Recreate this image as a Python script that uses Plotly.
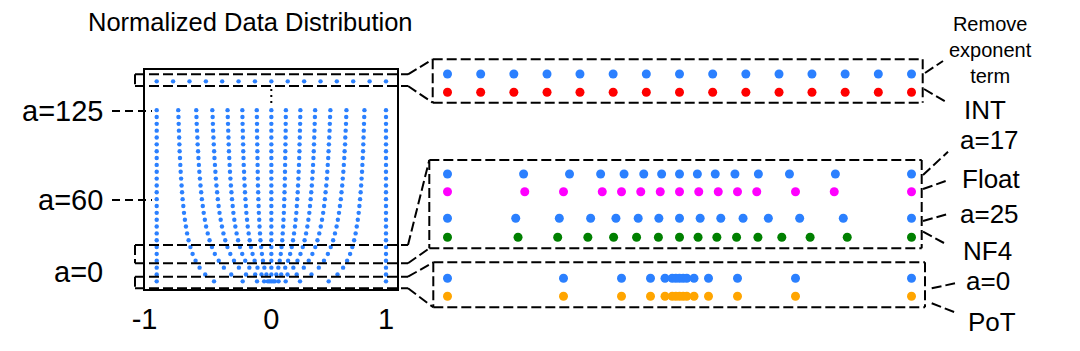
import plotly.graph_objects as go

# ---------------- data ----------------
# rows of the left panel (value of a) and the positive half of the 15 levels in each row
A_LEVELS = [0, 5, 10, 15, 20, 25, 30, 35, 40, 45, 50, 55, 60, 65,
            70, 75, 80, 85, 90, 95, 100, 105, 110, 115, 120, 125]
POS_LEVELS = [
    [0.016, 0.031, 0.063, 0.125, 0.250, 0.500, 1.0],
    [0.043, 0.086, 0.141, 0.221, 0.350, 0.577, 1.0],
    [0.061, 0.121, 0.192, 0.283, 0.414, 0.626, 1.0],
    [0.073, 0.146, 0.228, 0.326, 0.459, 0.661, 1.0],
    [0.082, 0.164, 0.254, 0.358, 0.493, 0.687, 1.0],
    [0.089, 0.178, 0.274, 0.383, 0.518, 0.706, 1.0],
    [0.095, 0.189, 0.290, 0.402, 0.539, 0.722, 1.0],
    [0.099, 0.198, 0.303, 0.418, 0.555, 0.735, 1.0],
    [0.103, 0.206, 0.314, 0.431, 0.569, 0.745, 1.0],
    [0.106, 0.212, 0.323, 0.442, 0.580, 0.754, 1.0],
    [0.109, 0.218, 0.331, 0.452, 0.590, 0.762, 1.0],
    [0.111, 0.222, 0.337, 0.460, 0.598, 0.768, 1.0],
    [0.113, 0.226, 0.343, 0.467, 0.606, 0.774, 1.0],
    [0.115, 0.230, 0.348, 0.473, 0.612, 0.779, 1.0],
    [0.117, 0.233, 0.353, 0.479, 0.618, 0.783, 1.0],
    [0.118, 0.236, 0.357, 0.484, 0.623, 0.787, 1.0],
    [0.119, 0.238, 0.361, 0.488, 0.628, 0.791, 1.0],
    [0.120, 0.241, 0.364, 0.492, 0.632, 0.794, 1.0],
    [0.121, 0.243, 0.367, 0.496, 0.636, 0.797, 1.0],
    [0.122, 0.245, 0.370, 0.499, 0.639, 0.800, 1.0],
    [0.123, 0.246, 0.372, 0.502, 0.643, 0.802, 1.0],
    [0.124, 0.248, 0.374, 0.505, 0.645, 0.804, 1.0],
    [0.125, 0.249, 0.376, 0.508, 0.648, 0.806, 1.0],
    [0.125, 0.251, 0.378, 0.510, 0.651, 0.808, 1.0],
    [0.126, 0.252, 0.380, 0.512, 0.653, 0.810, 1.0],
    [0.127, 0.253, 0.382, 0.515, 0.655, 0.812, 1.0],
]
TOP_ROW_A = 146  # "remove exponent term" row
INT_POS = [0.143, 0.286, 0.429, 0.571, 0.714, 0.857, 1.0]
A17_POS = [0.077, 0.154, 0.239, 0.340, 0.474, 0.672, 1.0]
FLOAT_POS = [0.083, 0.167, 0.250, 0.333, 0.500, 0.667, 1.0]
A25_POS = [0.089, 0.178, 0.274, 0.383, 0.518, 0.706, 1.0]
NF4_VALUES = [-1.0, -0.696, -0.525, -0.395, -0.284, -0.185, -0.091, 0.0,
              0.080, 0.161, 0.246, 0.338, 0.441, 0.563, 0.723, 1.0]
A0_POS = [0.0156, 0.0313, 0.0625, 0.125, 0.25, 0.5, 1.0]
POT_POS = [0.0156, 0.0313, 0.0625, 0.125, 0.25, 0.5, 1.0]
X_TICKS = [-1, 0, 1]
X_TICK_TEXT = ["-1\u00a0\u00a0\u00a0", "0", "1"]

# ---------------- layout helpers ----------------
W, H = 1080, 351
FONT = "Liberation Sans, Arial, Helvetica, sans-serif"
BLUE = "#2b80ff"


def px(x):
    return x / W


def py(y):
    return 1 - y / H


def sym(pos):
    return [-v for v in reversed(pos)] + [0.0] + list(pos)


# ---------------- traces ----------------
fig = go.Figure()

lx, ly = [], []
for a, pos in zip(A_LEVELS, POS_LEVELS):
    row = sym(pos)
    lx += row
    ly += [a] * len(row)
top = sym(INT_POS)
lx += top
ly += [TOP_ROW_A] * len(top)
fig.add_trace(go.Scatter(x=lx, y=ly, mode="markers", xaxis="x", yaxis="y",
                         marker=dict(color=BLUE, size=4.4), cliponaxis=False,
                         showlegend=False, hoverinfo="skip"))

# right panel rows: (values, color, row position in pixels)
RIGHT_ROWS = [
    (sym(INT_POS), BLUE, 74),
    (sym(INT_POS), "#ff0000", 92.3),
    (sym(A17_POS), BLUE, 174),
    (sym(FLOAT_POS), "#ff00ff", 191.7),
    (sym(A25_POS), BLUE, 218.3),
    (NF4_VALUES, "#008000", 237.3),
    (sym(A0_POS), BLUE, 278.3),
    (sym(POT_POS), "#ffa500", 296.3),
]
for vals, col, yy in RIGHT_ROWS:
    fig.add_trace(go.Scatter(x=vals, y=[yy] * len(vals), mode="markers",
                             xaxis="x2", yaxis="y2",
                             marker=dict(color=col, size=9), cliponaxis=False,
                             showlegend=False, hoverinfo="skip"))

# ---------------- shapes ----------------
shapes = []
DASH = "10px,4px"


def dline(x0, y0, x1, y1, dash=DASH, w=2):
    shapes.append(dict(type="line", xref="paper", yref="paper",
                       x0=px(x0), y0=py(y0), x1=px(x1), y1=py(y1),
                       line=dict(color="black", width=w, dash=dash)))


def drect(x0, y0, x1, y1):
    dline(x0, y0, x1, y0)
    dline(x0, y1, x1, y1)
    dline(x0, y0, x0, y1)
    dline(x1, y0, x1, y1)


# left brackets
for (t, b) in [(74.3, 86), (245, 263.3), (276.7, 288.3)]:
    dline(135, t, 408, t)
    dline(135, b, 408, b)
    dline(135, t, 135, b)

# right boxes
drect(432.7, 59.3, 922.7, 102.7)
drect(429.3, 160, 921.7, 248.3)
drect(433.3, 262.3, 925, 307.3)

# connectors left -> right boxes
dline(408, 74.3, 432.7, 59.3)
dline(408, 86, 432.7, 102.7)
dline(408, 245, 429.3, 160)
dline(408, 263.3, 429.3, 248.3)
dline(408, 276.7, 433.3, 262.3)
dline(408, 288.3, 433.3, 307.3)

# connectors right boxes -> labels
dline(925, 73, 943, 61)
dline(924, 89, 948, 103)
dline(923, 175, 948, 151.7)
dline(923, 189, 946.7, 180.7)
dline(923, 221, 946.7, 214.3)
dline(923, 231.7, 944, 243)
dline(931.7, 288.3, 955, 283.3)
dline(931.7, 303.3, 955, 312.3)

# leader lines of the a labels
dline(112, 111, 152, 111, "8px,5px")
dline(112, 200, 152, 200, "8px,5px")

# dotted continuation line
dline(271.3, 89, 271.3, 104, "2px,4px", 2)

# ---------------- annotations ----------------
ann = []


def text(x, y, s, size=26, xanchor="center"):
    ann.append(dict(x=px(x), y=py(y), xref="paper", yref="paper", text=s,
                    showarrow=False, xanchor=xanchor, yanchor="middle",
                    font=dict(size=size, color="black", family=FONT)))


text(250, 22, "Normalized Data Distribution", 25.5)
text(105, 111, "a=125", 29, "right")
text(105, 200, "a=60", 29, "right")
text(105, 272, "a=0", 29, "right")
text(990, 50, "Remove<br>exponent<br>term", 20)
text(985, 110, "INT")
text(989, 140, "a=17")
text(991, 179, "Float")
text(989, 214, "a=25")
text(987, 251, "NF4")
text(988, 281, "a=0")
text(992, 322, "PoT")

# ---------------- axes ----------------
xc, xs = 271.35, 114.65
rc, rs = 679.5, 232.0
fig.update_layout(
    width=W, height=H, margin=dict(l=0, r=0, t=0, b=0, autoexpand=False),
    paper_bgcolor="white", plot_bgcolor="rgba(0,0,0,0)",
    font=dict(family=FONT, color="black"),
    xaxis=dict(domain=[px(145), px(397)],
               range=[(145 - xc) / xs, (397 - xc) / xs], automargin=False,
               showgrid=False, zeroline=False, showline=True, mirror=True,
               linecolor="black", linewidth=2, ticks="",
               tickvals=X_TICKS, ticktext=X_TICK_TEXT,
               tickfont=dict(size=29, family=FONT, color="black"),
               ticklabelstandoff=3),
    yaxis=dict(domain=[py(289), py(70)], range=[-5.6, 154.3], automargin=False,
               showgrid=False, zeroline=False, showline=True, mirror=True,
               linecolor="black", linewidth=2, showticklabels=False, ticks=""),
    xaxis2=dict(domain=[0, 1], range=[(0 - rc) / rs, (W - rc) / rs],
                visible=False, anchor="y2", automargin=False),
    yaxis2=dict(domain=[0, 1], range=[H, 0], visible=False, anchor="x2",
                automargin=False),
    shapes=shapes, annotations=ann,
)

fig.write_html("out.html")
